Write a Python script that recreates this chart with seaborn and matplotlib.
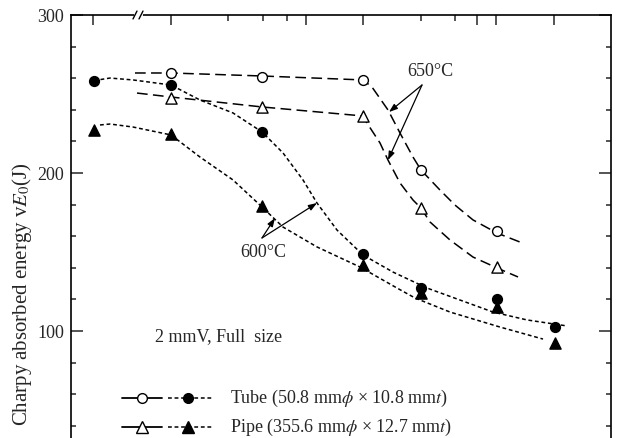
import matplotlib
matplotlib.use("Agg")
import numpy as np
import seaborn as sns
import matplotlib.pyplot as plt

# measured points (x in arbitrary tempering units, y = vE0 in J)
x_650 = [10.0, 19.1, 29.2, 35.0, 42.6]
tube_650 = [263, 261, 259, 202, 163]
pipe_650 = [247.5, 242, 236, 178, 140.5]

x_600 = [2.3, 10.0, 19.1, 29.2, 35.0, 42.6, 48.4]
tube_600 = [258, 256, 226, 149, 127, 120, 102.5]
pipe_600 = [227, 224.5, 179, 142, 124, 115, 92.5]

# hand-drawn trend curves
curve_tube_650_x = [6.4, 10.0, 19.1, 29.2, 30.1, 31.7, 32.9, 34.2, 35.0, 36.9, 38.4, 40.2, 42.6, 44.9]
curve_tube_650_y = [263.3, 263.3, 261.4, 258.9, 254.4, 239.9, 225.3, 210.1, 201.9, 189.2, 179.7, 170.3, 162.0, 156.3]
curve_pipe_650_x = [6.6, 10.0, 19.1, 29.2, 29.6, 30.9, 31.7, 32.9, 34.2, 35.0, 35.9, 37.9, 40.2, 42.6, 44.7]
curve_pipe_650_y = [250.6, 248.1, 241.8, 236.1, 231.6, 219.0, 208.2, 193.7, 182.9, 177.8, 169.0, 157.6, 146.8, 139.9, 134.2]
curve_tube_600_x = [2.3, 3.9, 6.2, 10.0, 12.9, 16.2, 19.1, 21.2, 23.2, 24.6, 26.6, 29.2, 32.2, 35.6, 38.9, 42.2, 45.6, 49.6]
curve_tube_600_y = [258.5, 260.1, 258.9, 255.7, 246.2, 238.0, 226.0, 212.7, 195.6, 181.0, 163.9, 148.1, 137.3, 127.2, 119.6, 112.0, 107.0, 103.2]
curve_pipe_600_x = [2.9, 3.9, 6.2, 10.0, 12.9, 16.2, 19.1, 21.2, 24.6, 28.9, 32.6, 34.4, 37.9, 42.9, 47.2]
curve_pipe_600_y = [230.4, 231.0, 229.1, 224.1, 210.1, 195.6, 178.5, 165.8, 153.2, 140.5, 127.2, 120.9, 112.0, 102.5, 94.9]

top_major = [2.2, 10.0, 23.5, 29.2, 40.6, 42.5, 48.3]
top_minor = [15.7, 19.2, 21.6, 35.0, 38.4]

sns.set_style("ticks")
plt.rcParams["font.family"] = ["Liberation Serif", "DejaVu Serif"]
plt.rcParams["mathtext.fontset"] = "stix"

fig = plt.figure(figsize=(6.18, 4.38), dpi=100)
ax = fig.add_axes([71 / 618, 0.96575 - 474 / 438, 540 / 618, 474 / 438])

long_dash = (0, (7, 3.5))
short_dash = (0, (2.5, 1.8))

sns.lineplot(x=curve_tube_650_x, y=curve_tube_650_y, ax=ax, color="k", lw=1.1, linestyle=long_dash, sort=False)
sns.lineplot(x=curve_pipe_650_x, y=curve_pipe_650_y, ax=ax, color="k", lw=1.1, linestyle=long_dash, sort=False)
sns.lineplot(x=curve_tube_600_x, y=curve_tube_600_y, ax=ax, color="k", lw=1.1, linestyle=short_dash, sort=False)
sns.lineplot(x=curve_pipe_600_x, y=curve_pipe_600_y, ax=ax, color="k", lw=1.1, linestyle=short_dash, sort=False)

sns.scatterplot(x=x_650, y=tube_650, ax=ax, marker="o", s=50, color="white", edgecolor="black", linewidth=1.0, zorder=4)
sns.scatterplot(x=x_650, y=pipe_650, ax=ax, marker="^", s=65, color="white", edgecolor="black", linewidth=1.0, zorder=4)
sns.scatterplot(x=x_600, y=tube_600, ax=ax, marker="o", s=50, color="black", edgecolor="black", linewidth=1.0, zorder=4)
sns.scatterplot(x=x_600, y=pipe_600, ax=ax, marker="^", s=65, color="black", edgecolor="black", linewidth=1.0, zorder=4)

# temperature call-outs
arrow = dict(arrowstyle="-|>,head_length=0.5,head_width=0.18", color="k", lw=0.9, shrinkA=0, shrinkB=0)
for tx, ty in [(31.8, 238.6), (31.7, 208.2)]:
    ax.annotate("", xy=(tx, ty), xytext=(35.1, 255.7), arrowprops=arrow)
for tx, ty in [(20.4, 171.5), (24.6, 181.0)]:
    ax.annotate("", xy=(tx, ty), xytext=(19.1, 158.9), arrowprops=arrow)
ax.text(35.9, 264, "650°C", ha="center", va="center", fontsize=13)
ax.text(19.2, 149.4, "600°C", ha="center", va="center", fontsize=13)
ax.text(14.8, 96.2, "2 mmV, Full  size", ha="center", va="center", fontsize=13)

# legend rows drawn by hand, like the original
ax.plot([5.1, 9.1], [57.6, 57.6], color="k", lw=1.3, clip_on=False)
ax.plot([7.1], [57.6], marker="o", ms=7, mfc="white", mec="k", clip_on=False)
ax.plot([9.7, 14.2], [57.6, 57.6], color="k", lw=1.1, linestyle=short_dash, clip_on=False)
ax.plot([11.7], [57.6], marker="o", ms=7, mfc="k", mec="k", clip_on=False)
ax.text(15.9, 57.6, "Tube (50.8 mm$\\phi$ × 10.8 mm$t$)", ha="left", va="center", fontsize=13)
ax.plot([5.1, 9.1], [39.2, 39.2], color="k", lw=1.3, clip_on=False)
ax.plot([7.1], [39.2], marker="^", ms=8, mfc="white", mec="k", clip_on=False)
ax.plot([9.7, 14.2], [39.2, 39.2], color="k", lw=1.1, linestyle=short_dash, clip_on=False)
ax.plot([11.7], [39.2], marker="^", ms=8, mfc="k", mec="k", clip_on=False)
ax.text(15.9, 39.2, "Pipe (355.6 mm$\\phi$ × 12.7 mm$t$)", ha="left", va="center", fontsize=13)

ax.set_xlim(0, 54)
ax.set_ylim(0, 300)
ax.set_yticks([100, 200, 300])
ax.set_yticks(np.arange(0, 301, 20), minor=True)
ax.set_xticks(top_major)
ax.set_xticks(top_minor, minor=True)
ax.tick_params(axis="x", which="both", top=True, bottom=False, labelbottom=False, direction="in", width=1.1)
ax.tick_params(axis="x", which="major", length=7)
ax.tick_params(axis="x", which="minor", length=4.5)
ax.tick_params(axis="y", which="both", left=True, right=True, direction="in", width=1.1, labelsize=13, pad=5)
ax.tick_params(axis="y", which="major", length=8.5)
ax.tick_params(axis="y", which="minor", length=3.6)
for side in ax.spines.values():
    side.set_linewidth(1.2)
    side.set_color("k")

# axis break on the top spine
ax.plot([6.45, 6.95], [300, 300], color="white", lw=3, clip_on=False, zorder=5)
ax.plot([6.2, 6.6], [297.5, 302.5], color="k", lw=1.0, clip_on=False, zorder=6)
ax.plot([6.8, 7.2], [297.5, 302.5], color="k", lw=1.0, clip_on=False, zorder=6)

fig.text(22 / 618, 1 - 294 / 438, "Charpy absorbed energy v$E_0$(J)", rotation=90,
         ha="center", va="center", fontsize=15)

fig.savefig("out.png", dpi=100, facecolor="white")
